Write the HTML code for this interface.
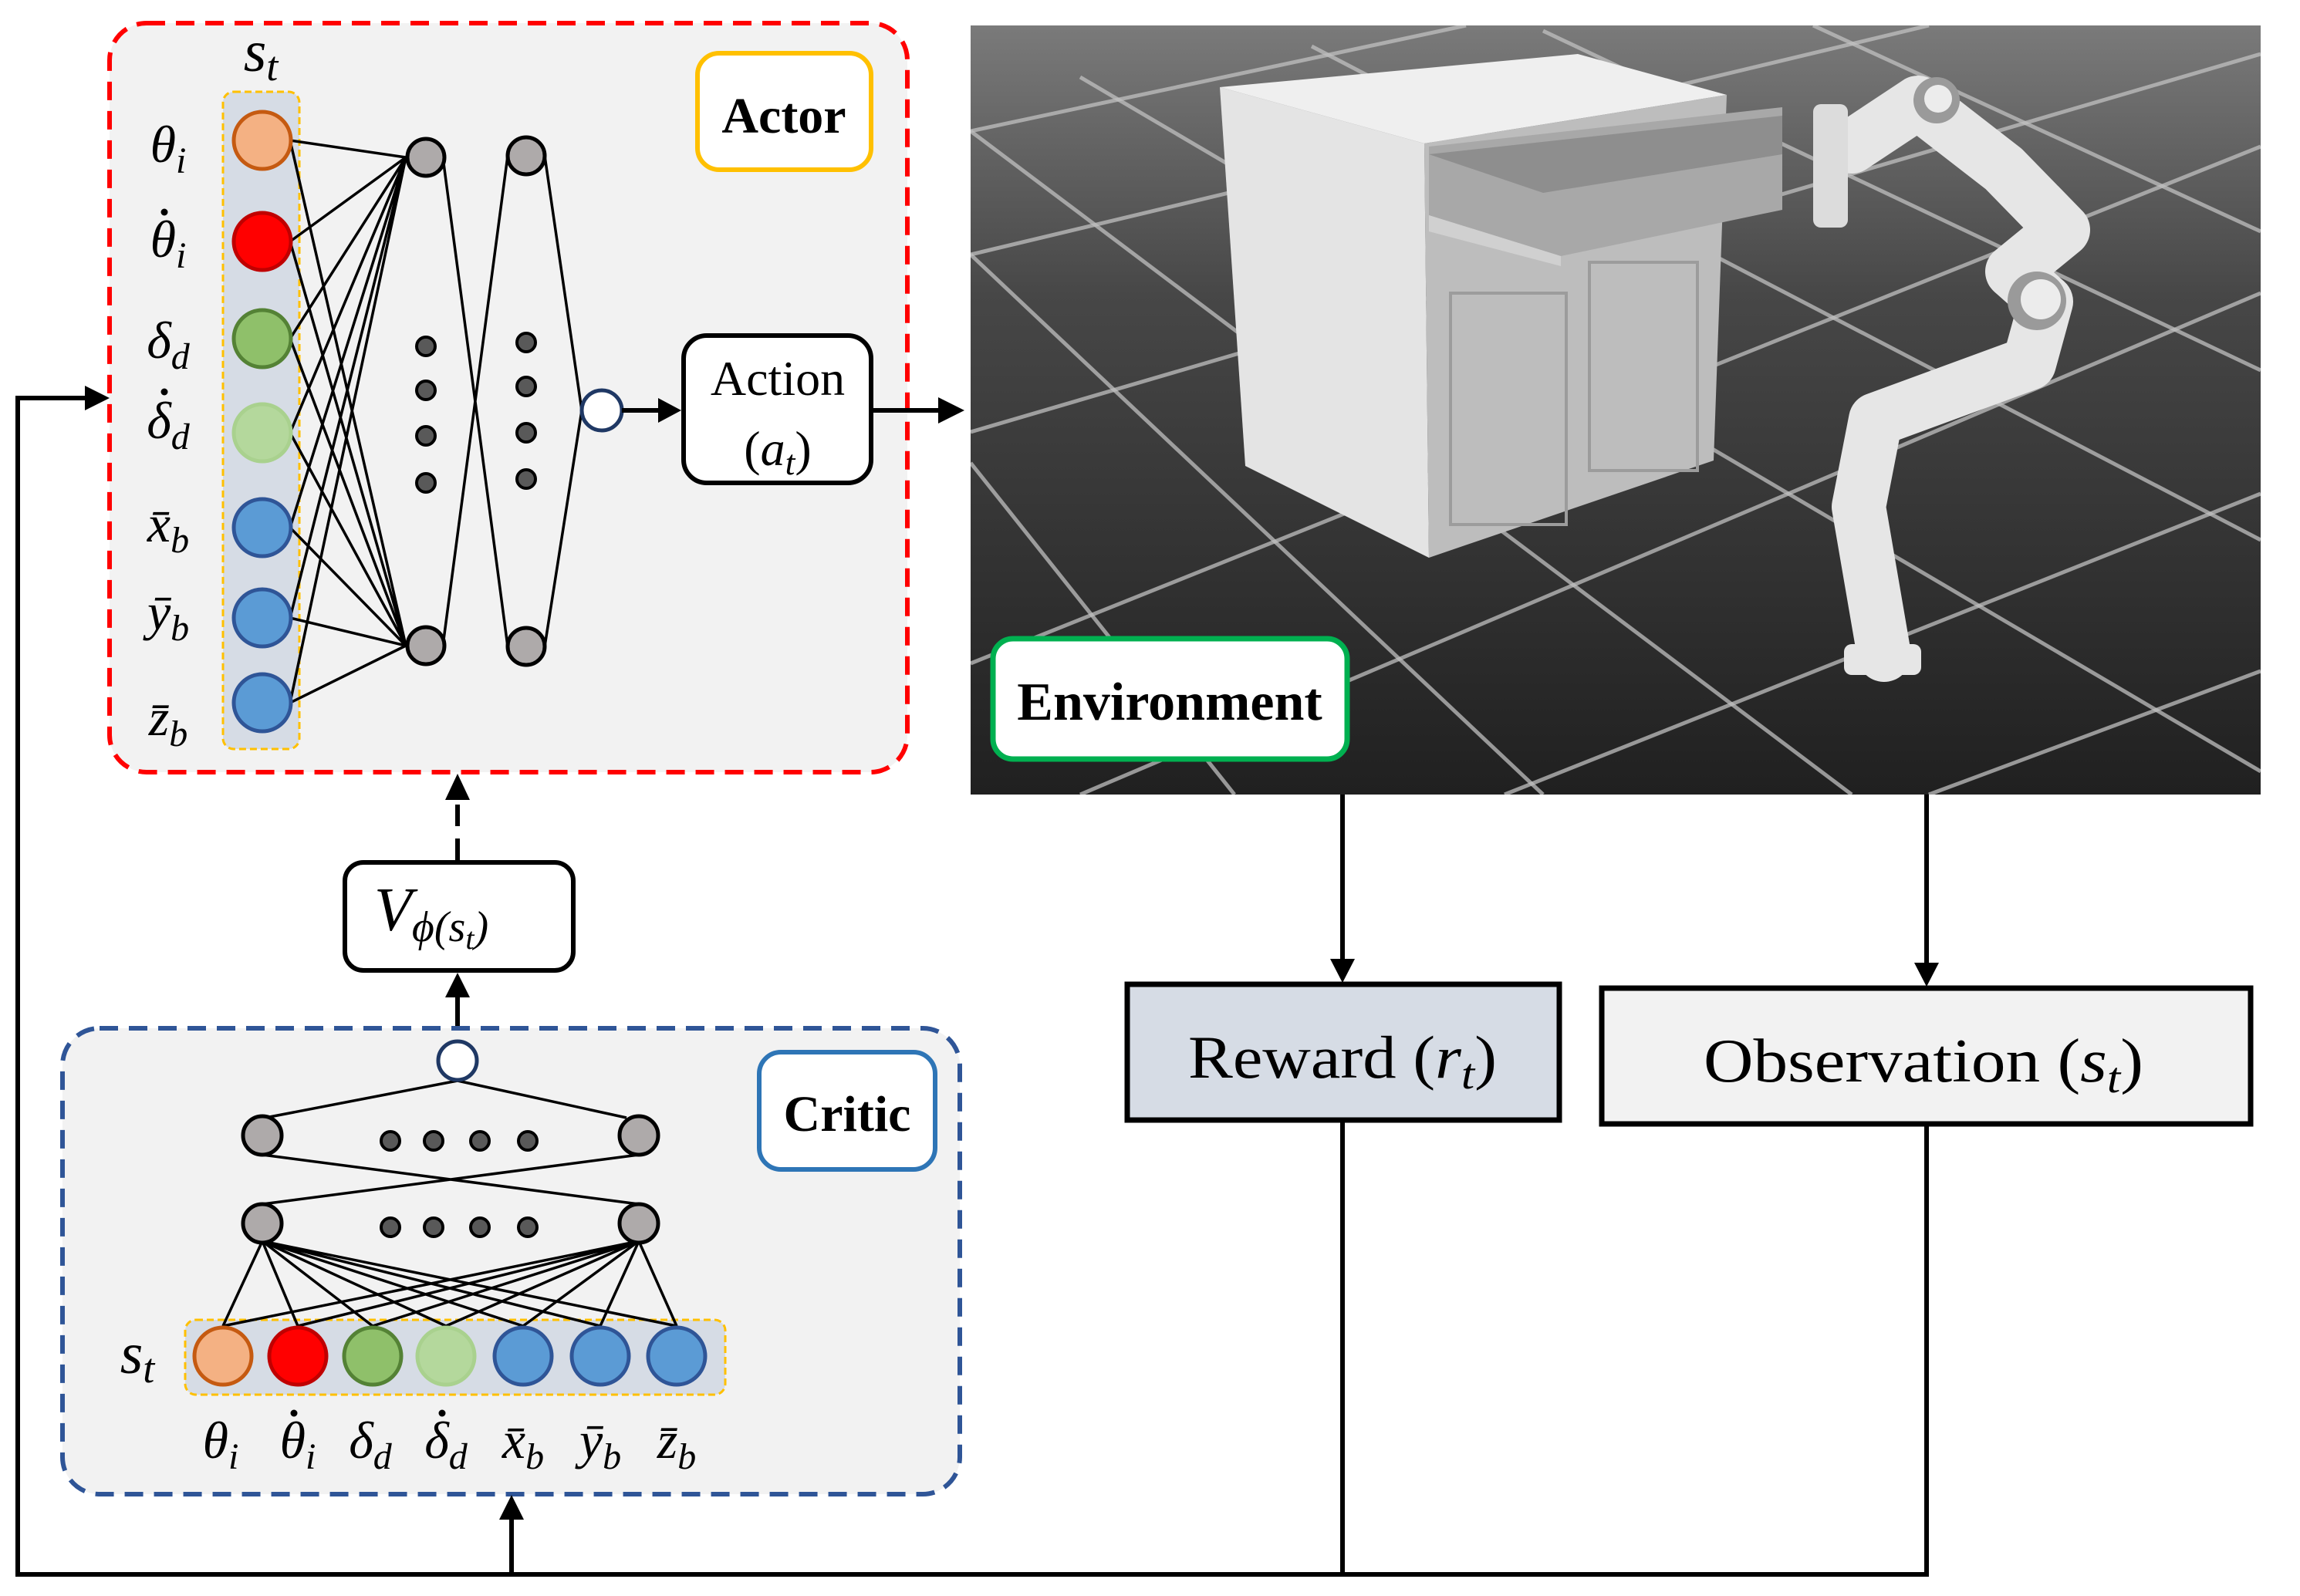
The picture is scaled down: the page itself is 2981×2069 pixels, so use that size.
<!DOCTYPE html>
<html><head><meta charset="utf-8"><style>
html,body{margin:0;padding:0;background:#fff;}
svg{display:block;}
text{font-family:"Liberation Serif",serif;}
.m{font-style:italic;}
</style></head><body>
<svg width="2981" height="2069" viewBox="0 0 2981 2069" xmlns="http://www.w3.org/2000/svg">
<defs>
<linearGradient id="bg" x1="0" y1="0" x2="0" y2="1">
<stop offset="0" stop-color="#7a7a7a"/><stop offset="0.35" stop-color="#474747"/><stop offset="1" stop-color="#202020"/>
</linearGradient>
<clipPath id="clipEnv"><rect x="1258" y="33" width="1672" height="997"/></clipPath>
</defs>

<rect x="1258" y="33" width="1672" height="997" fill="url(#bg)"/>
<g clip-path="url(#clipEnv)" stroke="#c0c0c0" stroke-width="5" stroke-opacity="0.75" fill="none">
<line x1="1258" y1="600" x2="1600" y2="1030"/>
<line x1="1258" y1="330" x2="2000" y2="1030"/>
<line x1="1258" y1="170" x2="2400" y2="1030"/>
<line x1="1400" y1="100" x2="2930" y2="1000"/>
<line x1="1700" y1="60" x2="2930" y2="700"/>
<line x1="2000" y1="40" x2="2930" y2="480"/>
<line x1="2350" y1="33" x2="2930" y2="300"/>
<line x1="1400" y1="1030" x2="2930" y2="380"/>
<line x1="1258" y1="860" x2="2930" y2="190"/>
<line x1="1258" y1="560" x2="2930" y2="70"/>
<line x1="1258" y1="330" x2="2500" y2="33"/>
<line x1="1258" y1="170" x2="1900" y2="33"/>
<line x1="1950" y1="1030" x2="2930" y2="640"/>
<line x1="2500" y1="1030" x2="2930" y2="870"/>
</g>
<polygon points="1581,113 1846,186 1852,723 1614,604" fill="#e4e4e4"/>
<polygon points="1581,113 2045,70 2238,123 1846,186" fill="#efefef"/>
<polygon points="1846,186 2238,123 2221,597 1852,723" fill="#bdbdbd"/>
<polygon points="1852,190 2310,139 2310,272 2023,332 1852,279" fill="#a8a8a8"/>
<polygon points="1852,200 2310,150 2310,200 2000,250" fill="#8e8e8e"/>
<polygon points="1852,279 2023,332 2023,345 1852,300" fill="#d0d0d0"/>
<rect x="1880" y="380" width="150" height="300" fill="none" stroke="#9c9c9c" stroke-width="4"/>
<rect x="2060" y="340" width="140" height="270" fill="none" stroke="#9c9c9c" stroke-width="4"/>
<path d="M2442,849 L2409,657 L2431,544 L2630,471 L2652,391 L2608,352 L2674,298 L2597,219 L2486,133 L2400,190" fill="none" stroke="#e6e6e6" stroke-width="70" stroke-linejoin="round" stroke-linecap="round"/>
<circle cx="2640" cy="390" r="38" fill="#9a9a9a"/><circle cx="2645" cy="388" r="26" fill="#ececec"/>
<circle cx="2510" cy="130" r="30" fill="#9a9a9a"/><circle cx="2512" cy="128" r="18" fill="#ececec"/>
<rect x="2350" y="135" width="45" height="160" rx="10" fill="#dcdcdc"/>
<rect x="2390" y="835" width="100" height="40" rx="10" fill="#e6e6e6"/>

<rect x="1287" y="828" width="459" height="156" rx="26" fill="#fff" stroke="#00b050" stroke-width="7"/>
<text x="1516" y="933" font-size="70" font-weight="bold" text-anchor="middle">Environment</text>

<rect x="142" y="30" width="1034" height="971" rx="48" fill="#f2f2f2" stroke="#ff0000" stroke-width="6" stroke-dasharray="24,14"/>
<rect x="289" y="119" width="99" height="852" rx="14" fill="#d6dce5" stroke="#ffc000" stroke-width="3" stroke-dasharray="9,5"/>
<text x="338" y="92" font-size="76" class="m" text-anchor="middle">s<tspan font-size="54" dy="12">t</tspan></text>

<g stroke="#000" stroke-width="3.5" fill="none">
<path d="M376,182 L526,204 M376,182 L526,837 M376,313 L526,204 M376,313 L526,837 M376,439 L526,204 M376,439 L526,837 M376,561 L526,204 M376,561 L526,837 M376,684 L526,204 M376,684 L526,837 M376,801 L526,204 M376,801 L526,837 M376,911 L526,204 M376,911 L526,837"/>
<path d="M574,204 L658,838 M574,837 L658,202 M706,202 L754,532 M706,838 L754,532"/>
</g>
<g stroke-width="5">
<circle cx="340" cy="182" r="37" fill="#f4b183" stroke="#c55a11"/>
<circle cx="340" cy="313" r="37" fill="#ff0000" stroke="#c00000"/>
<circle cx="340" cy="439" r="37" fill="#8fc06a" stroke="#548235"/>
<circle cx="340" cy="561" r="37" fill="#b4d89c" stroke="#a9d18e"/>
<circle cx="340" cy="684" r="37" fill="#5b9bd5" stroke="#2f5597"/>
<circle cx="340" cy="801" r="37" fill="#5b9bd5" stroke="#2f5597"/>
<circle cx="340" cy="911" r="37" fill="#5b9bd5" stroke="#2f5597"/>
</g>
<g fill="#aeaaaa" stroke="#000" stroke-width="5">
<circle cx="552" cy="204" r="24"/><circle cx="552" cy="837" r="24"/>
<circle cx="682" cy="202" r="24"/><circle cx="682" cy="838" r="24"/>
</g>
<g fill="#595959" stroke="#000" stroke-width="4">
<circle cx="552" cy="449" r="12"/><circle cx="552" cy="506" r="12"/><circle cx="552" cy="565" r="12"/><circle cx="552" cy="626" r="12"/>
<circle cx="682" cy="444" r="12"/><circle cx="682" cy="501" r="12"/><circle cx="682" cy="561" r="12"/><circle cx="682" cy="621" r="12"/>
</g>
<circle cx="780" cy="532" r="26" fill="#fff" stroke="#1f3864" stroke-width="5"/>

<g font-size="68" class="m" text-anchor="middle">
<text x="218" y="210">θ<tspan font-size="48" dy="14">i</tspan></text>
<text x="218" y="333">θ<tspan font-size="48" dy="14">i</tspan></text>
<text x="218" y="464">δ<tspan font-size="48" dy="14">d</tspan></text>
<text x="218" y="568">δ<tspan font-size="48" dy="14">d</tspan></text>
<text x="218" y="702">x̄<tspan font-size="48" dy="14">b</tspan></text>
<text x="218" y="816">ȳ<tspan font-size="48" dy="14">b</tspan></text>
<text x="218" y="953">z̄<tspan font-size="48" dy="14">b</tspan></text>
</g>
<circle cx="213" cy="275" r="4.5" fill="#000"/>
<circle cx="213" cy="508" r="4.5" fill="#000"/>

<line x1="806" y1="532" x2="855" y2="532" stroke="#000" stroke-width="6"/>
<polygon points="883,532 853,516 853,548" fill="#000"/>
<rect x="886" y="435" width="243" height="191" rx="30" fill="#fff" stroke="#000" stroke-width="6"/>
<text x="1008" y="512" font-size="64" text-anchor="middle">Action</text>
<text x="1008" y="603" font-size="64" text-anchor="middle">(<tspan class="m">a</tspan><tspan class="m" font-size="46" dy="12">t</tspan><tspan dy="-12">)</tspan></text>
<line x1="1132" y1="532" x2="1218" y2="532" stroke="#000" stroke-width="6"/>
<polygon points="1250,532 1216,515 1216,549" fill="#000"/>

<rect x="904" y="69" width="225" height="151" rx="28" fill="#fff" stroke="#ffc000" stroke-width="6"/>
<text x="1016" y="172" font-size="66" font-weight="bold" text-anchor="middle">Actor</text>

<line x1="593" y1="1115" x2="593" y2="1035" stroke="#000" stroke-width="6" stroke-dasharray="28,16"/>
<polygon points="593,1003 577,1037 609,1037" fill="#000"/>
<rect x="447" y="1118" width="296" height="140" rx="24" fill="#fff" stroke="#000" stroke-width="6"/>
<text x="485" y="1206" font-size="80" class="m">V<tspan font-size="56" dy="14">ϕ(</tspan><tspan font-size="56">s</tspan><tspan font-size="40" dy="10">t</tspan><tspan font-size="56" dy="-10">)</tspan></text>
<line x1="593" y1="1352" x2="593" y2="1290" stroke="#000" stroke-width="6"/>
<polygon points="593,1261 577,1293 609,1293" fill="#000"/>

<rect x="81" y="1333" width="1163" height="604" rx="48" fill="#f2f2f2" stroke="#2f5597" stroke-width="6" stroke-dasharray="24,14"/>
<rect x="240" y="1711" width="700" height="97" rx="14" fill="#d6dce5" stroke="#ffc000" stroke-width="3" stroke-dasharray="9,5"/>
<g stroke="#000" stroke-width="3.5" fill="none">
<path d="M593,1401 L344,1449 M593,1401 L812,1449 M340,1497 L828,1561 M828,1497 L340,1561"/>
<path d="M340,1609 L289,1719 M340,1609 L386,1719 M340,1609 L483,1719 M340,1609 L578,1719 M340,1609 L678,1719 M340,1609 L778,1719 M340,1609 L877,1719 M828,1609 L289,1719 M828,1609 L386,1719 M828,1609 L483,1719 M828,1609 L578,1719 M828,1609 L678,1719 M828,1609 L778,1719 M828,1609 L877,1719"/>
</g>
<circle cx="593" cy="1375" r="25" fill="#fff" stroke="#1f3864" stroke-width="5"/>
<g fill="#aeaaaa" stroke="#000" stroke-width="5">
<circle cx="340" cy="1472" r="25"/><circle cx="828" cy="1472" r="25"/>
<circle cx="340" cy="1586" r="25"/><circle cx="828" cy="1586" r="25"/>
</g>
<g fill="#595959" stroke="#000" stroke-width="4">
<circle cx="506" cy="1479" r="12"/><circle cx="562" cy="1479" r="12"/><circle cx="622" cy="1479" r="12"/><circle cx="684" cy="1479" r="12"/>
<circle cx="506" cy="1591" r="12"/><circle cx="562" cy="1591" r="12"/><circle cx="622" cy="1591" r="12"/><circle cx="684" cy="1591" r="12"/>
</g>
<g stroke-width="5">
<circle cx="289" cy="1758" r="37" fill="#f4b183" stroke="#c55a11"/>
<circle cx="386" cy="1758" r="37" fill="#ff0000" stroke="#c00000"/>
<circle cx="483" cy="1758" r="37" fill="#8fc06a" stroke="#548235"/>
<circle cx="578" cy="1758" r="37" fill="#b4d89c" stroke="#a9d18e"/>
<circle cx="678" cy="1758" r="37" fill="#5b9bd5" stroke="#2f5597"/>
<circle cx="778" cy="1758" r="37" fill="#5b9bd5" stroke="#2f5597"/>
<circle cx="877" cy="1758" r="37" fill="#5b9bd5" stroke="#2f5597"/>
</g>
<text x="178" y="1780" font-size="76" class="m" text-anchor="middle">s<tspan font-size="54" dy="12">t</tspan></text>
<g font-size="68" class="m" text-anchor="middle">
<text x="286" y="1890">θ<tspan font-size="48" dy="14">i</tspan></text>
<text x="386" y="1890">θ<tspan font-size="48" dy="14">i</tspan></text>
<text x="480" y="1890">δ<tspan font-size="48" dy="14">d</tspan></text>
<text x="578" y="1890">δ<tspan font-size="48" dy="14">d</tspan></text>
<text x="678" y="1890">x̄<tspan font-size="48" dy="14">b</tspan></text>
<text x="778" y="1890">ȳ<tspan font-size="48" dy="14">b</tspan></text>
<text x="877" y="1890">z̄<tspan font-size="48" dy="14">b</tspan></text>
</g>
<circle cx="381" cy="1832" r="4.5" fill="#000"/>
<circle cx="573" cy="1832" r="4.5" fill="#000"/>
<rect x="984" y="1364" width="228" height="152" rx="28" fill="#fff" stroke="#2e75b6" stroke-width="6"/>
<text x="1098" y="1466" font-size="66" font-weight="bold" text-anchor="middle">Critic</text>

<line x1="1740" y1="1030" x2="1740" y2="1245" stroke="#000" stroke-width="6"/>
<polygon points="1740,1274 1724,1243 1756,1243" fill="#000"/>
<line x1="2497" y1="1030" x2="2497" y2="1250" stroke="#000" stroke-width="6"/>
<polygon points="2497,1279 2481,1248 2513,1248" fill="#000"/>
<rect x="1461" y="1276" width="560" height="176" fill="#d6dce5" stroke="#000" stroke-width="7"/>
<text x="1740" y="1397" font-size="78" text-anchor="middle" textLength="400" lengthAdjust="spacingAndGlyphs">Reward (<tspan class="m">r</tspan><tspan class="m" font-size="56" dy="14">t</tspan><tspan dy="-14">)</tspan></text>
<rect x="2076" y="1281" width="841" height="176" fill="#f2f2f2" stroke="#000" stroke-width="7"/>
<text x="2493" y="1402" font-size="80" text-anchor="middle" textLength="570" lengthAdjust="spacingAndGlyphs">Observation (<tspan class="m">s</tspan><tspan class="m" font-size="56" dy="14">t</tspan><tspan dy="-14">)</tspan></text>

<line x1="1740" y1="1455" x2="1740" y2="2041" stroke="#000" stroke-width="6"/>
<line x1="2497" y1="1460" x2="2497" y2="2041" stroke="#000" stroke-width="6"/>
<polyline points="2500,2041 23,2041 23,516 112,516" fill="none" stroke="#000" stroke-width="6"/>
<polygon points="142,516 110,500 110,532" fill="#000"/>
<line x1="663" y1="2041" x2="663" y2="1968" stroke="#000" stroke-width="6"/>
<polygon points="663,1938 647,1970 679,1970" fill="#000"/>
</svg>
</body></html>
